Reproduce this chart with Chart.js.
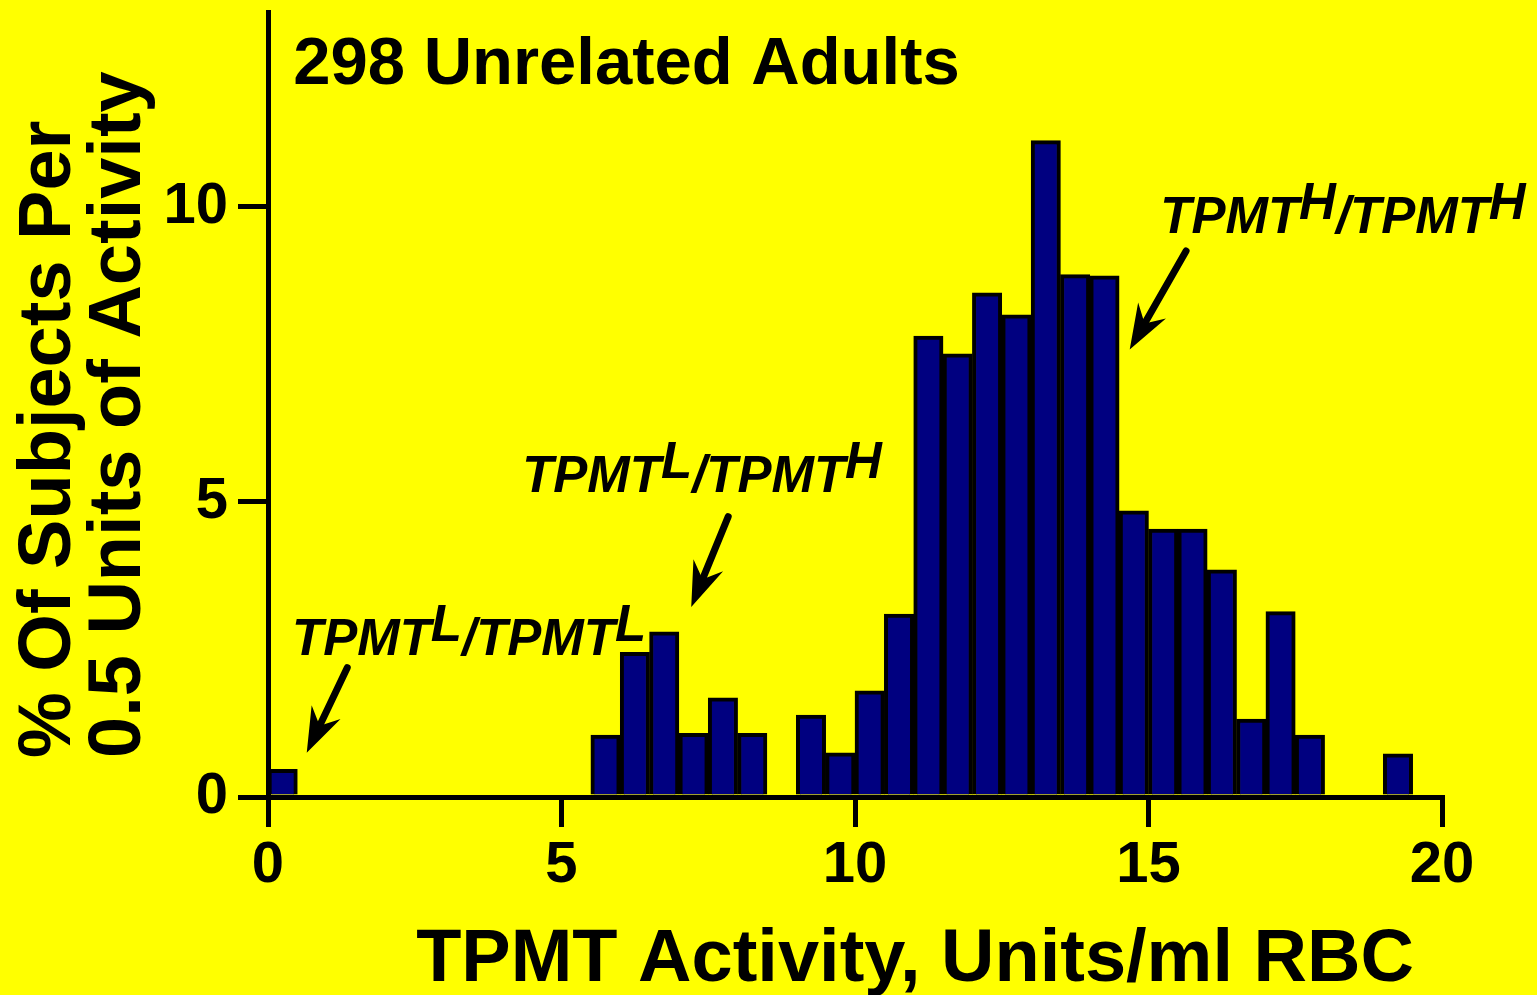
<!DOCTYPE html>
<html>
<head>
<meta charset="utf-8">
<title>TPMT activity in 298 unrelated adults</title>
<script src="https://cdn.jsdelivr.net/npm/chart.js@4.4.1/dist/chart.umd.min.js"></script>
<style>
html, body { margin: 0; padding: 0; background: #ffff00; }
#wrap { width: 1537px; height: 995px; }
</style>
</head>
<body>
<div id="wrap"><canvas id="chart" width="1537" height="995"></canvas></div>
<script>
"use strict";

/*global Chart*/

// histogram bins, 0.5 units of activity wide (centre of each bin)
var binCenters = [0.25, 5.75, 6.25, 6.75, 7.25, 7.75, 8.25, 9.25, 9.75, 10.25, 10.75,
    11.25, 11.75, 12.25, 12.75, 13.25, 13.75, 14.25, 14.75, 15.25, 15.75, 16.25,
    16.75, 17.25, 17.75, 19.25];
var percentSubjects = [0.47, 1.05, 2.45, 2.80, 1.08, 1.68, 1.08, 1.39, 0.75, 1.80, 3.10,
    7.81, 7.51, 8.54, 8.17, 11.12, 8.85, 8.83, 4.85, 4.54, 4.54, 3.85,
    1.32, 3.14, 1.05, 0.73];
var xTicks = [0, 5, 10, 15, 20];
var yTicks = [0, 5, 10];

var FONT = '"Liberation Sans", Arial, Helvetica, sans-serif';

var genotypes = [
    { label: [['TPMT', 0], ['H', 1], ['/', 0], ['TPMT', 0], ['H', 1]], at: [15.20, 9.56], tail: [15.64, 9.25], tip: [14.68, 7.58] },
    { label: [['TPMT', 0], ['L', 1], ['/', 0], ['TPMT', 0], ['H', 1]], at: [4.33, 5.17], tail: [7.84, 4.75], tip: [7.21, 3.22] },
    { label: [['TPMT', 0], ['L', 1], ['/', 0], ['TPMT', 0], ['L', 1]], at: [0.41, 2.41], tail: [1.35, 2.19], tip: [0.66, 0.75] }
];

var drawArrow = function (ctx, x1, y1, x2, y2) {
    var len = Math.sqrt((x2 - x1) * (x2 - x1) + (y2 - y1) * (y2 - y1)),
        ux = (x2 - x1) / len,
        uy = (y2 - y1) / len,
        nx = -uy,
        ny = ux,
        notchX = x2 - ux * 30,
        notchY = y2 - uy * 30;
    ctx.lineWidth = 7;
    ctx.lineCap = 'round';
    ctx.beginPath();
    ctx.moveTo(x1, y1);
    ctx.lineTo(notchX, notchY);
    ctx.stroke();
    ctx.beginPath();
    ctx.moveTo(x2, y2);
    ctx.lineTo(x2 - ux * 45 + nx * 16, y2 - uy * 45 + ny * 16);
    ctx.lineTo(notchX, notchY);
    ctx.lineTo(x2 - ux * 45 - nx * 16, y2 - uy * 45 - ny * 16);
    ctx.closePath();
    ctx.fill();
};

var textPlugin = {
    id: 'texts',
    afterDatasetsDraw: function (chart) {
        var ctx = chart.ctx,
            xs = chart.scales.x,
            ys = chart.scales.y;
        ctx.save();
        ctx.fillStyle = '#000';
        ctx.strokeStyle = '#000';
        ctx.textBaseline = 'alphabetic';

        // heading inside the plot
        ctx.font = 'bold 67px ' + FONT;
        ctx.textAlign = 'left';
        ctx.fillText('298 Unrelated Adults', xs.getPixelForValue(0.43), ys.getPixelForValue(12.08));

        // genotype labels and arrows
        ctx.font = 'italic bold 51px ' + FONT;
        genotypes.forEach(function (g) {
            var x = xs.getPixelForValue(g.at[0]),
                y = ys.getPixelForValue(g.at[1]);
            g.label.forEach(function (part) {
                ctx.fillText(part[0], x, part[1] ? y - 14 : y);
                x += ctx.measureText(part[0]).width;
            });
            drawArrow(ctx, xs.getPixelForValue(g.tail[0]), ys.getPixelForValue(g.tail[1]),
                xs.getPixelForValue(g.tip[0]), ys.getPixelForValue(g.tip[1]));
        });

        // axis titles
        ctx.font = 'bold 74px ' + FONT;
        ctx.textAlign = 'center';
        ctx.fillText('TPMT Activity, Units/ml RBC', 915, 981);
        ctx.textAlign = 'left';
        [['% Of Subjects Per', 70], ['0.5 Units of Activity', 140]].forEach(function (line) {
            ctx.save();
            ctx.translate(line[1], 758);
            ctx.rotate(-Math.PI / 2);
            ctx.fillText(line[0], 0, 0);
            ctx.restore();
        });
        ctx.restore();
    }
};

var axisStyle = function (ticks) {
    return {
        type: 'linear',
        afterBuildTicks: function (scale) {
            scale.ticks = ticks.map(function (v) { return { value: v }; });
        },
        grid: { drawOnChartArea: false, drawTicks: true, offset: false, tickLength: 30, lineWidth: 5, color: '#000', z: 1 },
        border: { display: true, width: 5, color: '#000', z: 1 },
        ticks: {
            color: '#000',
            font: { family: FONT, weight: 'bold', size: 58, lineHeight: 1.2 }
        }
    };
};

var xAxis = axisStyle(xTicks),
    yAxis = axisStyle(yTicks);
xAxis.min = 0;
xAxis.max = 20;
xAxis.offset = false;
xAxis.ticks.padding = 4;
xAxis.afterFit = function (scale) {
    scale.height = 198;
};
yAxis.min = 0;
yAxis.max = 13.3;
yAxis.ticks.padding = 10;
yAxis.afterFit = function (scale) {
    scale.width = 268;
    scale.paddingTop = 0;
    scale.paddingBottom = 0;
};

var chart = new Chart(document.getElementById('chart').getContext('2d'), {
    type: 'bar',
    data: {
        datasets: [{
            data: binCenters.map(function (x, i) { return { x: x, y: percentSubjects[i] }; }),
            backgroundColor: '#000080',
            borderColor: '#000',
            borderWidth: 4,
            barPercentage: 1,
            categoryPercentage: 1
        }]
    },
    options: {
        responsive: false,
        animation: false,
        devicePixelRatio: 1,
        layout: { padding: { top: 12, right: 95, left: 0, bottom: 0 } },
        plugins: { legend: { display: false }, tooltip: { enabled: false } },
        scales: { x: xAxis, y: yAxis }
    },
    plugins: [textPlugin]
});
</script>
</body>
</html>
